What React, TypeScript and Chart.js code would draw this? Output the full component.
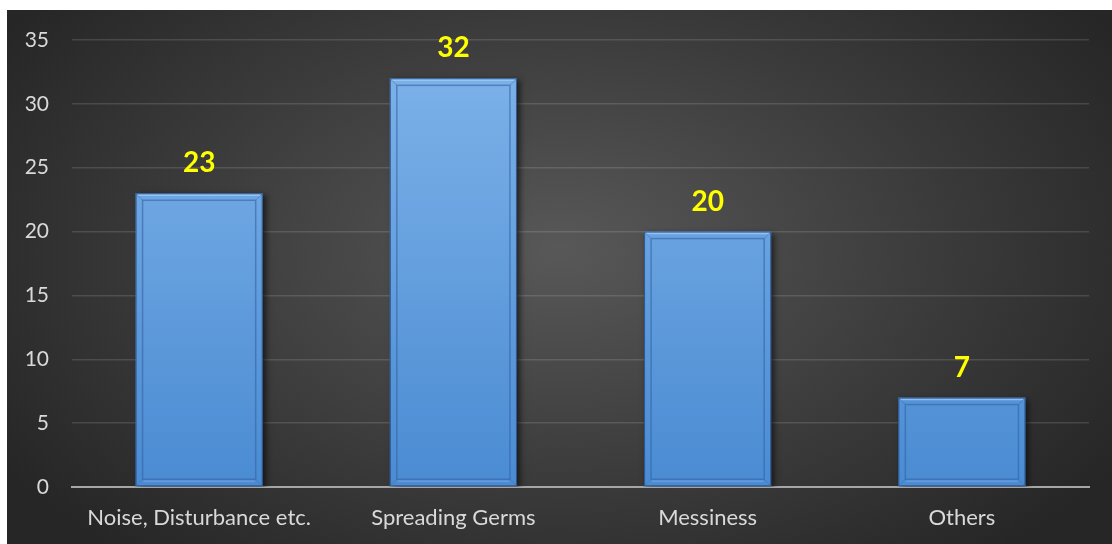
import React, { useEffect, useRef } from "react";
import { Chart, registerables } from "chart.js";

Chart.register(...registerables);

const categories = ["Noise, Disturbance etc.", "Spreading Germs", "Messiness", "Others"];
const values = [23, 32, 20, 7];
const yTicks = [0, 5, 10, 15, 20, 25, 30, 35];

const FONT = "Lato, 'DejaVu Sans', sans-serif";

const bevelPlugin = {
  id: "bevel",
  beforeDatasetsDraw(chart: any) {
    const ctx = chart.ctx;
    ctx.save();
    ctx.shadowColor = "rgba(0,0,0,0.6)";
    ctx.shadowBlur = 6;
    ctx.shadowOffsetX = 3;
    ctx.shadowOffsetY = 2;
  },
  afterDatasetsDraw(chart: any) {
    const ctx = chart.ctx;
    ctx.restore();
    const meta = chart.getDatasetMeta(0);
    ctx.save();
    meta.data.forEach((bar: any, i: number) => {
      const left = bar.x - bar.width / 2;
      const right = bar.x + bar.width / 2;
      const top = bar.y;
      const bottom = bar.base;
      const inset = 7;
      ctx.strokeStyle = "rgba(40,80,140,0.9)";
      ctx.lineWidth = 1;
      ctx.strokeRect(left + 0.5, top + 0.5, right - left - 1, bottom - top - 1);
      ctx.strokeStyle = "rgba(50,100,165,0.6)";
      ctx.lineWidth = 1.5;
      ctx.strokeRect(left + inset, top + inset, right - left - 2 * inset, bottom - top - 2 * inset);
      ctx.strokeStyle = "rgba(170,205,245,0.7)";
      ctx.lineWidth = 1.5;
      ctx.beginPath();
      ctx.moveTo(left + 2, top + 2);
      ctx.lineTo(right - 2, top + 2);
      ctx.stroke();
      ctx.strokeStyle = "rgba(110,160,220,0.8)";
      ctx.beginPath();
      ctx.moveTo(left + inset + 1, bottom - inset + 2);
      ctx.lineTo(right - inset - 1, bottom - inset + 2);
      ctx.stroke();
      ctx.strokeStyle = "rgba(60,110,175,0.5)";
      ctx.lineWidth = 1;
      ctx.beginPath();
      ctx.moveTo(left, top); ctx.lineTo(left + inset, top + inset);
      ctx.moveTo(right, top); ctx.lineTo(right - inset, top + inset);
      ctx.moveTo(left, bottom); ctx.lineTo(left + inset, bottom - inset);
      ctx.moveTo(right, bottom); ctx.lineTo(right - inset, bottom - inset);
      ctx.stroke();
      ctx.fillStyle = "#ffff00";
      ctx.font = `bold 28px ${FONT}`;
      ctx.textAlign = "center";
      ctx.textBaseline = "middle";
      ctx.fillText(String(values[i]), bar.x, top - 30);
    });
    ctx.restore();
  },
};

export default function App() {
  const ref = useRef<HTMLCanvasElement>(null);
  useEffect(() => {
    const canvas = ref.current!;
    const chart = new Chart(canvas, {
      type: "bar",
      data: {
        labels: categories,
        datasets: [
          {
            data: values,
            backgroundColor: (c: any) => {
              const area = c.chart.chartArea;
              if (!area) return "#5b9bd5";
              const g = c.chart.ctx.createLinearGradient(0, area.top, 0, area.bottom);
              g.addColorStop(0, "#80b4ea");
              g.addColorStop(1, "#4a8bd2");
              return g;
            },
            borderWidth: 0,
            categoryPercentage: 1,
            barPercentage: 0.5,
          },
        ],
      },
      options: {
        responsive: false,
        animation: false,
        layout: { padding: { top: 30, right: 23, left: 0, bottom: 0 } },
        plugins: { legend: { display: false }, tooltip: { enabled: false } },
        scales: {
          x: {
            grid: { display: false, drawTicks: false },
            border: { display: true, color: "#a6a6a6", width: 2 },
            ticks: { color: "#d9d9d9", font: { family: FONT, size: 22 }, padding: 18 },
            afterFit: (s: any) => { s.height = 57; s.paddingLeft = 0; s.paddingRight = 0; },
          },
          y: {
            min: 0,
            max: 35,
            afterBuildTicks: (s: any) => { s.ticks = yTicks.map((v) => ({ value: v })); },
            grid: { color: "rgba(255,255,255,0.13)", drawTicks: false, lineWidth: 1.5 },
            border: { display: false },
            ticks: { color: "#d9d9d9", font: { family: FONT, size: 21 }, padding: 23 },
            afterFit: (s: any) => { s.width = 65; s.paddingTop = 0; s.paddingBottom = 0; },
          },
        },
      },
      plugins: [bevelPlugin],
    } as any);
    return () => chart.destroy();
  }, []);
  return (
    <div
      style={{
        position: "absolute",
        left: 7,
        top: 10,
        width: 1105,
        height: 534,
        background: "radial-gradient(ellipse 60% 75% at 50% 45%, #585858 0%, #3c3c3c 55%, #262626 100%)",
      }}
    >
      <canvas ref={ref} width={1105} height={534} style={{ display: "block" }} />
    </div>
  );
}
